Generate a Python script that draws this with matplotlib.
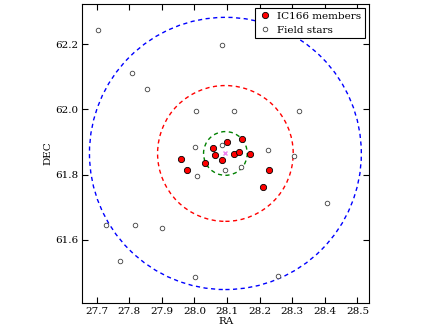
import matplotlib
matplotlib.use('Agg')
import matplotlib.pyplot as plt
from matplotlib.patches import Circle

# IC166 cluster members
ra_members = [27.958, 27.978, 28.032, 28.056, 28.063, 28.086, 28.099,
              28.122, 28.138, 28.146, 28.171, 28.230, 28.211]
dec_members = [61.848, 61.815, 61.836, 61.883, 61.861, 61.844, 61.901,
               61.862, 61.868, 61.908, 61.864, 61.814, 61.762]

# field stars
ra_field = [28.086, 27.704, 27.808, 27.855, 28.006, 28.121, 28.321, 28.001,
            28.086, 28.227, 28.306, 28.142, 28.095, 28.009, 27.728, 27.818,
            27.900, 27.772, 28.003, 28.408, 28.257]
dec_field = [62.198, 62.242, 62.112, 62.061, 61.996, 61.994, 61.994, 61.884,
             61.890, 61.877, 61.858, 61.822, 61.813, 61.796, 61.645, 61.647,
             61.637, 61.537, 61.486, 61.713, 61.488]

# cluster centre and radii (deg)
ra_c, dec_c = 28.095, 61.865
radii = [0.067, 0.208, 0.417]
circle_colors = ['green', 'red', 'blue']

plt.rcParams['font.family'] = 'DejaVu Serif'
plt.rcParams['font.size'] = 7.5
for ax_name in ('xtick', 'ytick'):
    plt.rcParams[ax_name + '.direction'] = 'in'
    plt.rcParams[ax_name + '.major.size'] = 4
    plt.rcParams[ax_name + '.major.pad'] = 3
plt.rcParams['xtick.top'] = True
plt.rcParams['ytick.right'] = True

fig = plt.figure(figsize=(4.4, 3.3), dpi=100)
ax = fig.add_axes([0.187, 0.083, 0.652, 0.905])

for r, c in zip(radii, circle_colors):
    ax.add_patch(Circle((ra_c, dec_c), r, fill=False, edgecolor=c,
                        linestyle=(0, (3, 2.5)), linewidth=1.0))

ax.plot(ra_members, dec_members, 'o', mfc='red', mec='black', ms=4.5,
        mew=0.6, label='IC166 members')
ax.plot(ra_field, dec_field, 'o', mfc='white', mec='0.25', ms=3.3,
        mew=0.6, label='Field stars')
ax.plot([ra_c], [dec_c], 'x', color='violet', ms=3, mew=1)

ax.set_xlim(27.656, 28.536)
ax.set_ylim(61.408, 62.323)
ax.set_xticks([27.7, 27.8, 27.9, 28.0, 28.1, 28.2, 28.3, 28.4, 28.5])
ax.set_yticks([61.6, 61.8, 62.0, 62.2])
ax.set_xlabel('RA', labelpad=1)
ax.set_ylabel('DEC', labelpad=2)

leg = ax.legend(loc='upper right', numpoints=1, fancybox=False,
                framealpha=1, edgecolor='black', borderaxespad=0.4,
                handlelength=1.2, handletextpad=0.6, borderpad=0.35,
                labelspacing=0.4)
leg.get_frame().set_linewidth(0.8)

fig.savefig('out.png', dpi=100)
